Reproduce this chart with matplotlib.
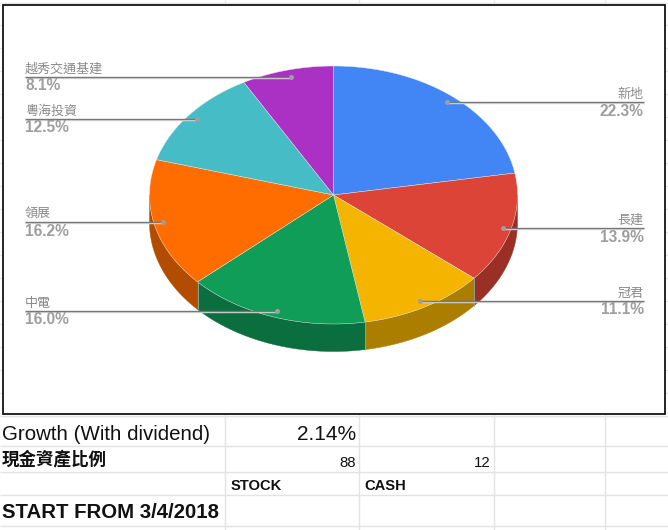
import numpy as np
import matplotlib
matplotlib.use("Agg")
import matplotlib.pyplot as plt

names = ["新地", "長建", "冠君", "中電", "領展", "粵海投資", "越秀交通基建"]
shares = [22.3, 13.9, 11.1, 16.0, 16.2, 12.5, 8.1]
top_colors = ["#4285f4", "#db4437", "#f4b400", "#0f9d58", "#ff6d00", "#46bdc6", "#ab30c4"]
side_colors = [None, "#9a2f26", "#ab7e00", "#0b6e3e", "#b24c00", None, None]
label_sides = ["r", "r", "r", "l", "l", "l", "l"]
line_ys = [102, 228, 301, 311, 222, 119, 77]
dot_xs = [447, 503, 420, 277, 163, 197, 291]

W, H = 668, 530
FAM = ["Liberation Sans", "Noto Sans CJK TC"]
plt.rcParams["font.family"] = FAM

fig = plt.figure(figsize=(W / 100, H / 100), dpi=100)
ax = fig.add_axes([0, 0, 1, 1])
ax.set_xlim(0, W)
ax.set_ylim(H, 0)
ax.axis("off")

grid = "#e2e3e3"
for x in [225, 359, 494, 605]:
    ax.plot([x, x], [414, H], color=grid, lw=1, zorder=1, solid_capstyle="butt")
    ax.plot([x, x], [0, 4], color=grid, lw=1, zorder=1, solid_capstyle="butt")
for y in [2.5, 416, 446, 472, 495, 526]:
    ax.plot([0, W], [y, y], color=grid, lw=1, zorder=1, solid_capstyle="butt")
for y in range(25, 414, 23):
    ax.plot([665, W], [y, y], color=grid, lw=1, zorder=1, solid_capstyle="butt")
    ax.plot([0, 2], [y, y], color=grid, lw=1, zorder=1, solid_capstyle="butt")

ax.add_patch(plt.Rectangle((2.5, 4.5), 662.5, 409.5, fc="white", ec="black", lw=1.2, zorder=2))

cx, cy, rx, ry, depth = 333.5, 195, 184, 129, 27.5
vals = np.array(shares)
edges = np.concatenate([[0], np.cumsum(vals) / vals.sum() * 2 * np.pi])


def pt(t, dy=0.0):
    return cx + rx * np.sin(t), cy - ry * np.cos(t) + dy


for i in range(len(vals)):
    a, b = edges[i], edges[i + 1]
    lo, hi = max(a, np.pi / 2), min(b, 3 * np.pi / 2)
    if side_colors[i] and hi > lo:
        t = np.linspace(lo, hi, 80)
        x0, y0 = pt(t)
        x1, y1 = pt(t, depth)
        ax.fill(np.r_[x0, x1[::-1]], np.r_[y0, y1[::-1]], fc=side_colors[i], ec=side_colors[i], lw=0.3, zorder=3)
for b in edges[1:]:
    if np.pi / 2 < b < 3 * np.pi / 2:
        x0, y0 = pt(b)
        ax.plot([x0, x0], [y0, y0 + depth], color="#8f9f90", lw=0.7, zorder=3.5, solid_capstyle="butt")

for i in range(len(vals)):
    t = np.linspace(edges[i], edges[i + 1], 120)
    x, y = pt(t)
    ax.fill(np.r_[cx, x], np.r_[cy, y], fc=top_colors[i], ec="#e8e8e8", lw=0.3, zorder=4)

tc = "#9e9e9e"
for i, name in enumerate(names):
    ly = line_ys[i]
    right = label_sides[i] == "r"
    xe = 644 if right else 25
    ax.plot([dot_xs[i], xe], [ly + 1, ly + 1], color="#dcdcdc", lw=1, zorder=5, solid_capstyle="butt")
    ax.plot([dot_xs[i], xe], [ly, ly], color="#777777", lw=1, zorder=6, solid_capstyle="butt")
    ax.plot(dot_xs[i], ly, "o", color="#9e9e9e", ms=3.6, mew=0, zorder=7)
    tx = 643.5 if right else 25
    ha = "right" if right else "left"
    ax.text(tx, ly - 1, name, ha=ha, va="bottom", fontsize=9.4, color="#8a8a8a", zorder=7)
    ax.text(tx, ly + 1.5, f"{shares[i]:.1f}%", ha=ha, va="top", fontsize=11.2, fontweight="bold", color=tc, zorder=7)

k = "#111111"
ax.text(2, 434.5, "Growth (With dividend)", fontsize=14.8, va="center", color=k)
ax.text(356, 434.5, "2.14%", fontsize=15, va="center", ha="right", color=k)
ax.text(2, 459.5, "現金資產比例", fontsize=12.6, va="center", fontweight="bold", color=k)
ax.text(356, 463, "88", fontsize=10.8, va="center", ha="right", color=k)
ax.text(491, 463, "12", fontsize=10.8, va="center", ha="right", color=k)
ax.text(231, 485.5, "STOCK", fontsize=10.6, va="center", fontweight="bold", color=k)
ax.text(364, 485.5, "CASH", fontsize=10.6, va="center", fontweight="bold", color=k)
ax.text(2, 513, "START FROM 3/4/2018", fontsize=14.7, va="center", fontweight="bold", color=k)

fig.savefig("out.png", dpi=100)
